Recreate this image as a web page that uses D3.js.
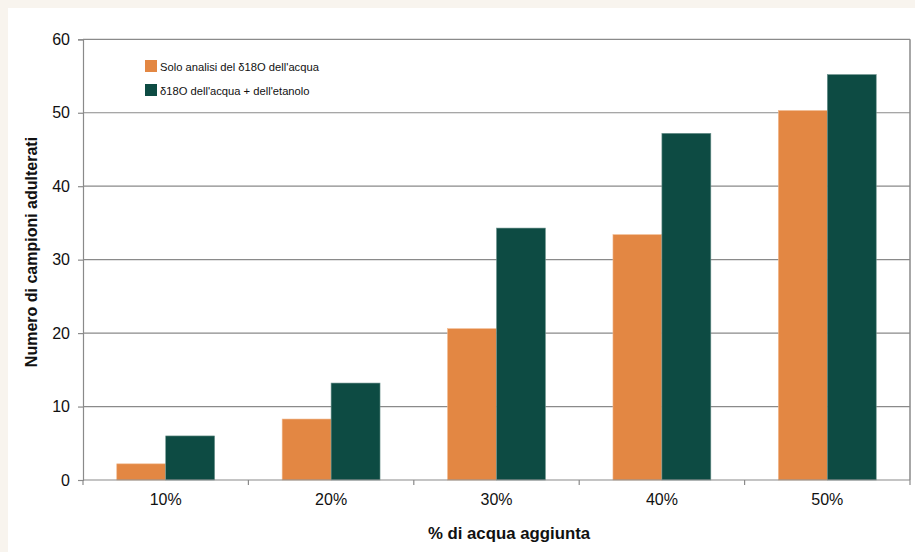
<!DOCTYPE html>
<html>
<head>
<meta charset="utf-8">
<script src="https://cdn.jsdelivr.net/npm/d3@7"></script>
<style>
  html, body { margin: 0; padding: 0; background: #f8f4ee; }
  svg { display: block; }
  text { font-family: "Liberation Sans", Arial, sans-serif; fill: #111; }
</style>
</head>
<body>
<svg id="chart" width="915" height="552"></svg>
<script>
// Percentuale di acqua aggiunta al vino
const categories = ["10%", "20%", "30%", "40%", "50%"];
const seriesNames = ["Solo analisi del δ18O dell'acqua", "δ18O dell'acqua + dell'etanolo"];
const soloAcqua = [2.2, 8.3, 20.6, 33.4, 50.3];
const acquaEtanolo = [6.0, 13.2, 34.3, 47.2, 55.2];
const yTicks = [0, 10, 20, 30, 40, 50, 60];
const colors = ["#e38743", "#0d4b43"];

const svg = d3.select("#chart");
const W = 915, H = 552;
const m = { left: 83, right: 5, top: 39.3, bottom: 72 };
const plotRight = W - m.right, plotBottom = H - m.bottom;

// pannello bianco
svg.append("rect").attr("x", 8).attr("y", 8).attr("width", W - 8).attr("height", H - 8).attr("fill", "#ffffff");

const x0 = d3.scaleBand().domain(categories).range([m.left, plotRight]).padding(0);
const x1 = d3.scaleBand().domain(seriesNames).range([0, x0.bandwidth()]).paddingInner(0).paddingOuter(0.69);
const y = d3.scaleLinear().domain([0, 60]).range([plotBottom, m.top]);

// griglia orizzontale
svg.append("g").selectAll("line").data(yTicks.filter(d => d > 0)).join("line")
  .attr("x1", m.left).attr("x2", plotRight)
  .attr("y1", d => y(d)).attr("y2", d => y(d))
  .attr("stroke", "#8a8a8a").attr("stroke-width", 1.2);

// bordo destro
svg.append("line").attr("x1", plotRight).attr("x2", plotRight).attr("y1", m.top).attr("y2", plotBottom)
  .attr("stroke", "#8a8a8a").attr("stroke-width", 1.5);

// barre
const rows = categories.map((c, i) => ({ cat: c, vals: [soloAcqua[i], acquaEtanolo[i]] }));
const groups = svg.append("g").selectAll("g").data(rows).join("g")
  .attr("transform", d => `translate(${x0(d.cat)},0)`);
groups.selectAll("rect").data(d => d.vals.map((v, j) => ({ v, j }))).join("rect")
  .attr("x", d => x1(seriesNames[d.j]))
  .attr("width", x1.bandwidth())
  .attr("y", d => y(d.v))
  .attr("height", d => y(0) - y(d.v))
  .attr("fill", d => colors[d.j])
  .attr("stroke", d => d.j === 0 ? "#f0b88e" : "#6f958f")
  .attr("stroke-width", 0.6);

// asse Y
const yAxis = svg.append("g").attr("transform", `translate(${m.left},0)`)
  .call(d3.axisLeft(y).tickValues(yTicks).tickSize(5).tickPadding(8));
yAxis.select(".domain").attr("stroke", "#8a8a8a").attr("stroke-width", 1.2);
yAxis.selectAll(".tick line").attr("stroke", "#8a8a8a").attr("stroke-width", 1.2);
yAxis.selectAll("text").style("font-size", "16px").attr("fill", "#111");

// asse X con tacche ai confini delle categorie
svg.append("line").attr("x1", m.left).attr("x2", plotRight).attr("y1", plotBottom).attr("y2", plotBottom)
  .attr("stroke", "#8a8a8a").attr("stroke-width", 1.2);
const bounds = categories.map(c => x0(c)).concat([plotRight]);
svg.append("g").selectAll("line").data(bounds).join("line")
  .attr("x1", d => d).attr("x2", d => d)
  .attr("y1", plotBottom).attr("y2", plotBottom + 5)
  .attr("stroke", "#8a8a8a").attr("stroke-width", 1.2);
svg.append("g").selectAll("text").data(categories).join("text")
  .attr("x", d => x0(d) + x0.bandwidth() / 2)
  .attr("y", plotBottom + 25)
  .attr("text-anchor", "middle")
  .style("font-size", "16px")
  .text(d => d);

// titoli degli assi
svg.append("text")
  .attr("x", 509).attr("y", 539)
  .attr("text-anchor", "middle")
  .style("font-size", "16.8px").style("font-weight", "bold")
  .text("% di acqua aggiunta");
svg.append("text")
  .attr("transform", "translate(37,252) rotate(-90)")
  .attr("text-anchor", "middle")
  .style("font-size", "16px").style("font-weight", "bold")
  .text("Numero di campioni adulterati");

// legenda
const legend = svg.append("g").selectAll("g").data(seriesNames).join("g")
  .attr("transform", (d, i) => `translate(145,${60 + i * 24})`);
legend.append("rect").attr("width", 12).attr("height", 12).attr("fill", (d, i) => colors[i]);
legend.append("text").attr("x", 15).attr("y", 10.5).style("font-size", "11.2px").text(d => d);
</script>
</body>
</html>
